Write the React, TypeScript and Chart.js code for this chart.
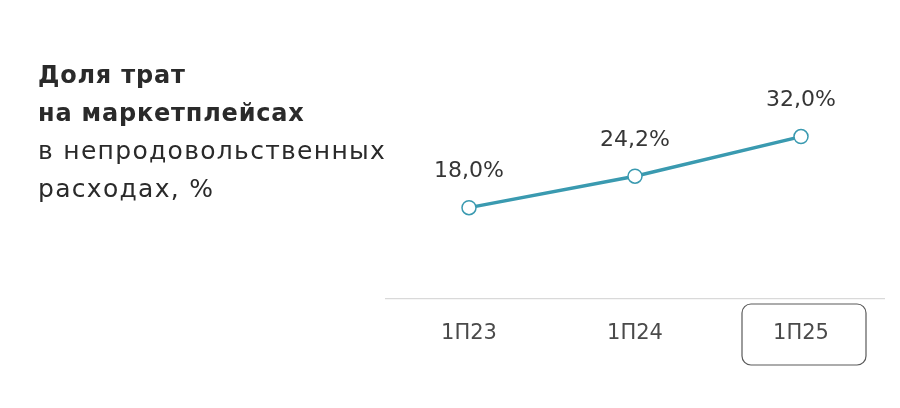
import React, { useEffect, useRef } from "react";
import { Chart, registerables } from "chart.js";

Chart.register(...registerables);

const categories = ["1П23", "1П24", "1П25"];
const shareValues = [18.0, 24.2, 32.0];
const valueLabels = ["18,0%", "24,2%", "32,0%"];
const titleBold = ["Доля трат", "на маркетплейсах"];
const titleRegular = ["в непродовольственных", "расходах, %"];
const highlightedCategory = "1П25";

const FONT = "'DejaVu Sans', sans-serif";

export default function App() {
  const canvasRef = useRef<HTMLCanvasElement | null>(null);

  useEffect(() => {
    const canvas = canvasRef.current;
    if (!canvas) return;

    const overlay = {
      id: "overlay",
      afterDatasetsDraw(chart: any) {
        const ctx = chart.ctx;
        const meta = chart.getDatasetMeta(0);
        ctx.save();
        ctx.font = `22px ${FONT}`;
        ctx.fillStyle = "#363636";
        ctx.textAlign = "center";
        ctx.textBaseline = "middle";
        meta.data.forEach((pt: any, i: number) => {
          ctx.fillText(valueLabels[i], pt.x, pt.y - 36);
        });
        const xs = chart.scales.x;
        const idx = categories.indexOf(highlightedCategory);
        const cx = xs.getPixelForValue(idx) + 3;
        const w = 124;
        const top = chart.chartArea.bottom + 5;
        const h = 61;
        ctx.strokeStyle = "#5a5a5a";
        ctx.lineWidth = 1.2;
        ctx.beginPath();
        ctx.roundRect(cx - w / 2, top, w, h, 9);
        ctx.stroke();
        ctx.restore();
      },
    };

    const chart = new Chart(canvas, {
      type: "line",
      data: {
        labels: categories,
        datasets: [
          {
            data: shareValues,
            borderColor: "#3a9ab0",
            borderWidth: 3.5,
            pointRadius: 7,
            pointBackgroundColor: "#ffffff",
            pointBorderColor: "#3a9ab0",
            pointBorderWidth: 1.5,
            tension: 0,
          },
        ],
      },
      options: {
        responsive: false,
        animation: false,
        layout: { padding: { left: 386, right: 16, top: 96, bottom: 0 } },
        plugins: { legend: { display: false }, tooltip: { enabled: false } },
        scales: {
          y: { display: false, min: 0, max: 40 },
          x: {
            offset: true,
            grid: { display: true, color: "transparent", drawTicks: false },
            border: { display: true, color: "#d9d9d9", width: 1.2 },
            ticks: {
              color: "#4a4a4a",
              font: { family: FONT, size: 21 },
              padding: 22,
            },
            afterFit(scale: any) {
              scale.height = 109;
            },
          },
        },
      },
      plugins: [overlay],
    });
    return () => chart.destroy();
  }, []);

  return (
    <div style={{ position: "absolute", left: 0, top: 0, width: 900, height: 408, background: "#fff" }}>
      <canvas ref={canvasRef} width={900} height={408} style={{ position: "absolute", left: 0, top: 0 }} />
      <div
        style={{
          position: "absolute",
          left: 38,
          top: 56,
          fontFamily: FONT,
          fontSize: 24,
          lineHeight: "38px",
          color: "#2a2a2a",
        }}
      >
        {titleBold.map((t) => (
          <div key={t} style={{ fontWeight: 700, letterSpacing: "0.8px" }}>{t}</div>
        ))}
        {titleRegular.map((t) => (
          <div key={t} style={{ fontSize: 25, letterSpacing: "1.3px" }}>{t}</div>
        ))}
      </div>
    </div>
  );
}
